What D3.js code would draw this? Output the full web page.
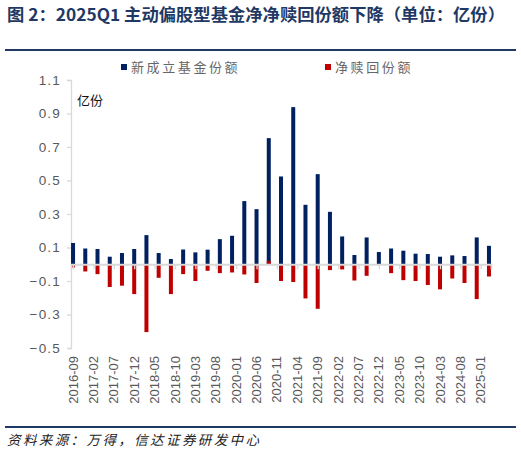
<!DOCTYPE html>
<html>
<head>
<meta charset="utf-8">
<script src="https://cdn.jsdelivr.net/npm/d3@7"></script>
<style>
  body { margin:0; background:#fff; }
  text { font-family: "Noto Sans CJK SC", "Liberation Sans", sans-serif; }
</style>
</head>
<body>
<div id="chart"></div>
<script>
// quarter-end months, one bar pair each
var quarters = ["2016-09","2016-12","2017-03","2017-06","2017-09","2017-12","2018-03","2018-06","2018-09","2018-12",
  "2019-03","2019-06","2019-09","2019-12","2020-03","2020-06","2020-09","2020-12","2021-03","2021-06",
  "2021-09","2021-12","2022-03","2022-06","2022-09","2022-12","2023-03","2023-06","2023-09","2023-12",
  "2024-03","2024-06","2024-09","2024-12","2025-03"]
var newFund = [0.127,0.094,0.091,0.045,0.067,0.091,0.174,0.067,0.031,0.088,
  0.071,0.087,0.150,0.170,0.377,0.329,0.753,0.524,0.938,0.355,
  0.538,0.313,0.166,0.055,0.160,0.073,0.094,0.081,0.063,0.061,
  0.045,0.053,0.049,0.160,0.110]
var netRedeem = [-0.019,-0.043,-0.059,-0.136,-0.128,-0.178,-0.405,-0.081,-0.178,-0.059,
  -0.100,-0.039,-0.053,-0.049,-0.061,-0.112,0.021,-0.100,-0.106,-0.204,
  -0.266,-0.035,-0.031,-0.097,-0.069,0,-0.053,-0.095,-0.100,-0.124,
  -0.150,-0.085,-0.112,-0.208,-0.073]
var xTickLabels = ["2016-09","2017-02","2017-07","2017-12","2018-05","2018-10","2019-03","2019-08","2020-01","2020-06",
  "2020-11","2021-04","2021-09","2022-02","2022-07","2022-12","2023-05","2023-10","2024-03","2024-08","2025-01"]
var yTicks = [-0.5,-0.3,-0.1,0.1,0.3,0.5,0.7,0.9,1.1]
var seriesNames = ["新成立基金份额","净赎回份额"]
var colours = ["#002060","#C00000"]

var W = 521, H = 457
var navy = "#1f3864"

// month offset from 2016-09, the axis is a date axis
function monthIdx(s) {
  var p = s.split("-")
  return (+p[0]-2016)*12 + (+p[1]-9)
}

var svg = d3.select("#chart").append("svg")
  .attr("width", W).attr("height", H)
svg.append("rect").attr("width", W).attr("height", H).attr("fill", "#fff")

// title + rules
svg.append("text")
  .attr("x", 7).attr("y", 21)
  .attr("textLength", 498).attr("lengthAdjust", "spacingAndGlyphs")
  .style("font-size", "16.5px").style("font-weight", "bold").style("fill", navy)
  .text("图 2：2025Q1 主动偏股型基金净净赎回份额下降（单位：亿份）")
svg.append("line").attr("x1", 5).attr("x2", 516).attr("y1", 50).attr("y2", 50)
  .attr("stroke", navy).attr("stroke-width", 2)
svg.append("line").attr("x1", 5).attr("x2", 516).attr("y1", 427).attr("y2", 427)
  .attr("stroke", navy).attr("stroke-width", 2)
svg.append("text")
  .attr("x", 7).attr("y", 445)
  .attr("textLength", 252).attr("lengthAdjust", "spacing")
  .style("font-size", "13.5px").style("font-style", "italic").style("fill", "#222")
  .text("资料来源：万得，信达证券研发中心")

var x = d3.scaleLinear().domain([-0.5, 102.5]).range([71, 491])
var y = d3.scaleLinear().domain([-0.5, 1.1]).range([348, 80])

// y axis
var yAxis = svg.append("g").attr("transform", "translate(71,0)")
  .call(d3.axisLeft(y).tickValues(yTicks).tickSize(4).tickPadding(6)
    .tickFormat(function(d){ return d3.format(".1f")(d) }))
yAxis.select(".domain").attr("stroke", "#d9d9d9").attr("stroke-width", 1.3)
yAxis.selectAll(".tick line").attr("stroke", "#d9d9d9").attr("stroke-width", 1.3)
yAxis.selectAll(".tick text")
  .style("font-family", "'Liberation Sans', Arial, sans-serif")
  .style("font-size", "13.5px").style("fill", "#595959").style("letter-spacing", "1.2px")
  .text(function(d){ return d3.format(".1f")(d).replace("-", "\u2212") })

svg.append("text").attr("x", 77).attr("y", 105)
  .style("font-size", "13px").style("fill", "#111").text("亿份")

// bars, same slot for both series
var bw = 4
svg.append("g").selectAll("rect").data(newFund).enter().append("rect")
  .attr("x", function(d, i){ return x(monthIdx(quarters[i])) - bw/2 })
  .attr("y", function(d){ return y(Math.max(0, d)) })
  .attr("width", bw)
  .attr("height", function(d){ return Math.abs(y(d) - y(0)) })
  .attr("fill", colours[0])
svg.append("g").selectAll("rect").data(netRedeem).enter().append("rect")
  .attr("x", function(d, i){ return x(monthIdx(quarters[i])) - bw/2 })
  .attr("y", function(d){ return y(Math.max(0, d)) })
  .attr("width", bw)
  .attr("height", function(d){ return Math.abs(y(d) - y(0)) })
  .attr("fill", colours[1])

// x axis on the zero line
var xAxis = svg.append("g").attr("transform", "translate(0," + y(0) + ")")
  .call(d3.axisBottom(x).tickValues(xTickLabels.map(monthIdx)).tickSize(5).tickFormat(""))
xAxis.select(".domain").attr("stroke", "#d9d9d9").attr("stroke-width", 1.8)
xAxis.selectAll(".tick line").attr("stroke", "#d9d9d9").attr("stroke-width", 1.3)

svg.append("g").selectAll("text").data(xTickLabels).enter().append("text")
  .attr("transform", function(d){ return "translate(" + x(monthIdx(d)) + ",356) rotate(-90)" })
  .attr("text-anchor", "end").attr("dy", "0.35em")
  .style("font-family", "'Liberation Sans', Arial, sans-serif")
  .style("font-size", "13px").style("fill", "#595959")
  .text(function(d){ return d })

// legend
var legX = [121, 325]
var leg = svg.append("g").selectAll("g").data(seriesNames).enter().append("g")
  .attr("transform", function(d, i){ return "translate(" + legX[i] + ",64)" })
leg.append("rect").attr("width", 6).attr("height", 6)
  .attr("fill", function(d, i){ return colours[i] })
leg.append("text").attr("x", 10).attr("y", 8)
  .style("font-size", "13px").style("fill", "#666").style("letter-spacing", "2.6px")
  .text(function(d){ return d })
</script>
</body>
</html>
